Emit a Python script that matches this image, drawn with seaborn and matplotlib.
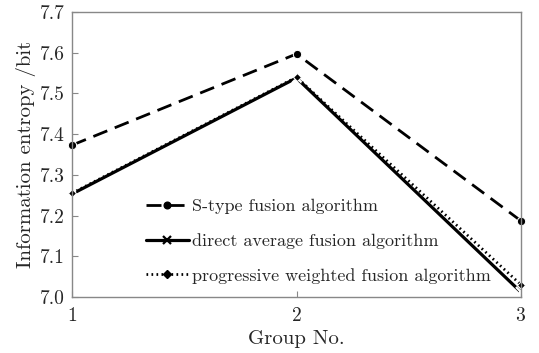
import pandas as pd
import numpy as np
import matplotlib.pyplot as plt
from matplotlib.lines import Line2D
import seaborn as sns

# values
groups = [1, 2, 3]
s_type = [7.373, 7.597, 7.187]
direct_avg = [7.253, 7.538, 7.012]
progressive = [7.255, 7.540, 7.030]
labels = ['S-type fusion algorithm', 'direct average fusion algorithm',
          'progressive weighted fusion algorithm']

styles = [
    dict(lw=2, marker='o', ms=6, linestyle=(0, (5.4, 2.9))),
    dict(lw=2.3, marker='x', ms=6.5, mew=1.6, linestyle='-'),
    dict(lw=2, marker='D', ms=4.5, linestyle=(0, (0.6, 1.2))),
]

sns.set_style('ticks')
plt.rcParams['font.family'] = ['cmr10', 'DejaVu Serif']
plt.rcParams['axes.formatter.use_mathtext'] = True

fig = plt.figure(figsize=(5.39, 3.53), dpi=100)
ax = fig.add_axes([0.1336, 0.1586, 0.833, 0.8074])

for ys, st in zip([s_type, direct_avg, progressive], styles):
    sns.lineplot(x=groups, y=ys, ax=ax, color='black', clip_on=False, **st)

ax.set_xlim(1, 3)
ax.set_ylim(7.0, 7.7)
ax.set_xticks([1, 2, 3])
ax.set_yticks(np.arange(7.0, 7.71, 0.1))
ax.set_yticklabels(['%.1f' % v for v in np.arange(7.0, 7.71, 0.1)])
ax.tick_params(direction='in', length=4, color='#888888', labelsize=14, pad=5)
ax.tick_params(axis='x', pad=7)
for sp in ax.spines.values():
    sp.set_color('#888888')
    sp.set_linewidth(1)

ax.set_xlabel('Group No.', fontsize=15, labelpad=4)
ax.set_ylabel('Information entropy /bit', fontsize=15, labelpad=3)

# legend markers a bit smaller than on the lines
leg_styles = [dict(st, ms=st['ms'] * 0.8) for st in styles]
handles = [Line2D([], [], color='black', **st) for st in leg_styles]
ax.legend(handles, labels, loc='lower left', bbox_to_anchor=(0.128, -0.01),
          frameon=False, fontsize=13, handlelength=2.4, handletextpad=0.15,
          labelspacing=1.05)

plt.savefig('out.png', dpi=100)
